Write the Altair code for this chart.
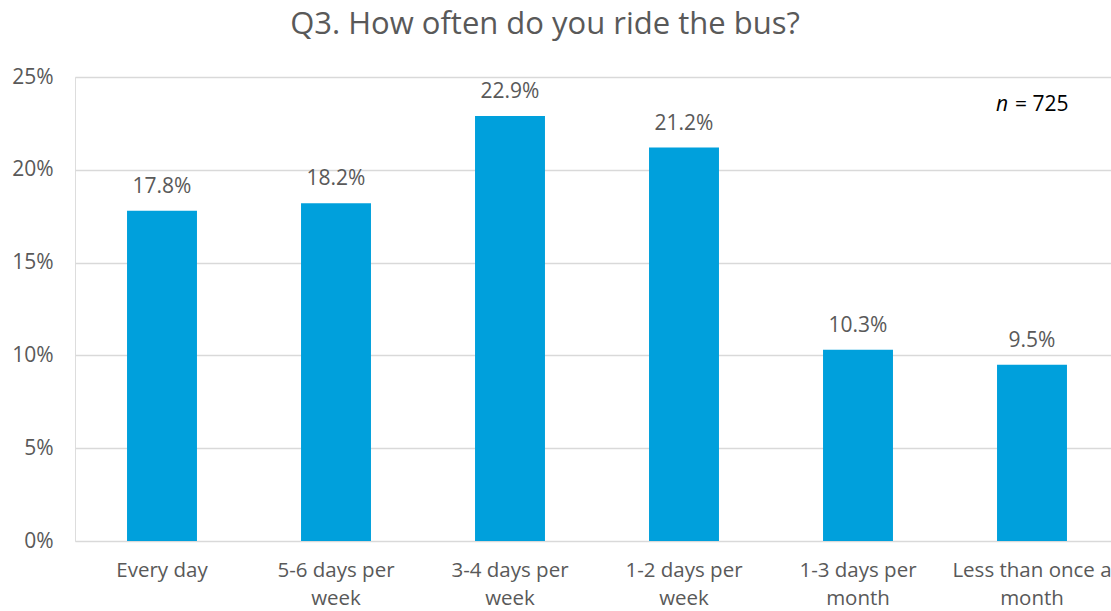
import altair as alt
import pandas as pd

categories = ["Every day", "5-6 days per week", "3-4 days per week",
              "1-2 days per week", "1-3 days per month", "Less than once a month"]
wrapped = ["Every day", "5-6 days per|week", "3-4 days per|week",
           "1-2 days per|week", "1-3 days per|month", "Less than once a|month"]
values = [17.8, 18.2, 22.9, 21.2, 10.3, 9.5]
y_ticks = [0, 5, 10, 15, 20, 25]
title_text = "Q3. How often do you ride the bus?"
n_text = "= 725"

df = pd.DataFrame({"cat": categories, "val": values,
                   "lab": [f"{v:.1f}%" for v in values]})

FONT = "Open Sans"
GRAY = "#595959"
mapping = "{" + ",".join(f"'{c}':'{w}'" for c, w in zip(categories, wrapped)) + "}"

x = alt.X("cat:N", sort=categories, title=None,
          scale=alt.Scale(paddingInner=0.598, paddingOuter=0.299, range=[0, 1044]),
          axis=alt.Axis(labelExpr=f"split({mapping}[datum.value], '|')",
                        labelAngle=0, labelFont=FONT, labelFontSize=20.5,
                        labelColor=GRAY, labelPadding=19, labelLineHeight=28,
                        ticks=False, domain=False, grid=False))
y = alt.Y("val:Q", title=None,
          scale=alt.Scale(domain=[0, 25], nice=False),
          axis=alt.Axis(values=y_ticks, labelExpr="datum.value + '%'",
                        labelFont=FONT, labelFontSize=21, labelColor=GRAY,
                        labelPadding=22, ticks=False, domain=False,
                        gridColor="#D9D9D9", gridWidth=1.5))

base = alt.Chart(df)
bars = base.mark_bar(color="#00A0DC").encode(x=x, y=y)
labels = base.mark_text(font=FONT, fontSize=21, color=GRAY, dy=-14,
                        baseline="bottom").encode(x=x, y=y, text="lab:N")

title = alt.Chart(pd.DataFrame({"t": [title_text]})).mark_text(
    font=FONT, fontSize=31, color=GRAY, baseline="alphabetic", align="center"
).encode(x=alt.value(470), y=alt.value(-43), text="t:N")

n_italic = alt.Chart(pd.DataFrame({"t": ["n"]})).mark_text(
    font=FONT, fontSize=21, fontStyle="italic", color="#000000",
    baseline="alphabetic", align="left"
).encode(x=alt.value(921), y=alt.value(34), text="t:N")
n_rest = alt.Chart(pd.DataFrame({"t": [n_text]})).mark_text(
    font=FONT, fontSize=21, color="#000000",
    baseline="alphabetic", align="left"
).encode(x=alt.value(940), y=alt.value(34), text="t:N")

chart = alt.layer(bars, labels, title, n_italic, n_rest).properties(
    width=1036, height=464,
    autosize=alt.AutoSizeParams(type="none"),
    padding={"left": 75, "top": 77, "right": 0, "bottom": 70},
).configure_view(stroke=None).configure(background="white")

chart.save("out.html", embed_options={"renderer": "svg", "actions": False})
